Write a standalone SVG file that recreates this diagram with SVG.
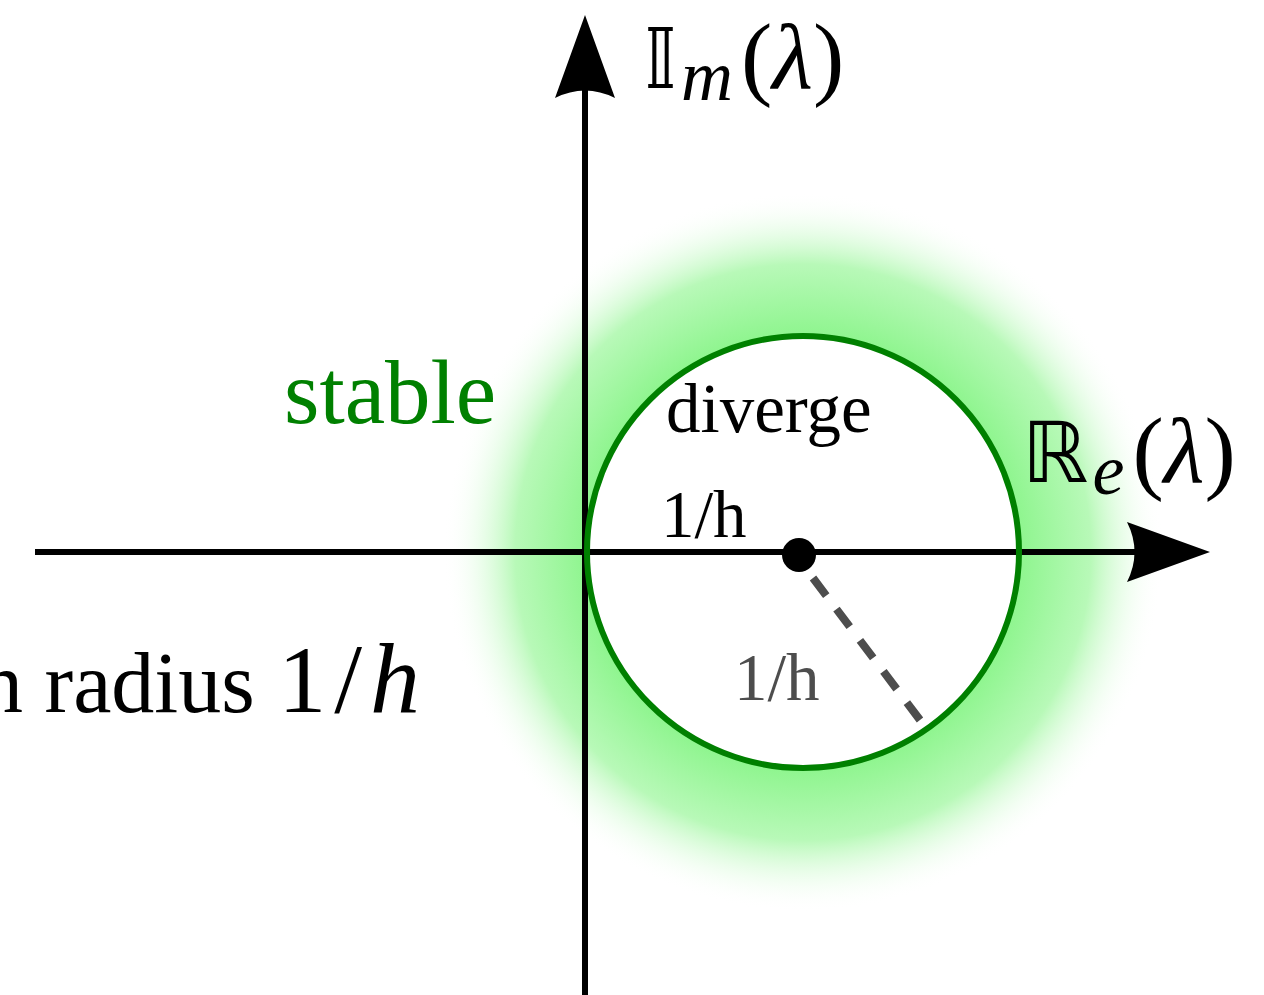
<svg xmlns="http://www.w3.org/2000/svg" width="1264" height="995" viewBox="0 0 1264 995">
<defs>
<radialGradient id="glow" cx="803" cy="552" r="360" gradientUnits="userSpaceOnUse">
<stop offset="0.6" stop-color="#8ef58e"/>
<stop offset="0.8" stop-color="#b8f9b8"/>
<stop offset="1" stop-color="#ffffff" stop-opacity="0"/>
</radialGradient>
<style>
.axis{stroke:#000;stroke-width:6;fill:none}
.lbl{font-family:"Liberation Serif","DejaVu Serif",serif}
.math{font-family:"DejaVu Sans","Noto Sans",sans-serif}
</style>
</defs>
<rect width="1264" height="995" fill="#fff"/>
<g id="region">
<circle cx="803" cy="552" r="360" fill="url(#glow)"/>
<circle cx="803" cy="552" r="216" fill="#fff"/>
</g>
<g id="connectors">
<line class="axis" x1="35" y1="552" x2="1140" y2="552"/>
<line class="axis" x1="585" y1="995" x2="585" y2="90"/>
<path d="M1210,552 L1127,522 Q1142,552 1127,582 Z" fill="#000"/>
<path d="M585,15 L555,98 Q585,83 615,98 Z" fill="#000"/>
<line x1="813" y1="578" x2="920" y2="720" stroke="#4d4d4d" stroke-width="8" stroke-dasharray="22,17"/>
</g>
<g id="circle">
<circle cx="803" cy="552" r="216" fill="none" stroke="#008000" stroke-width="6"/>
</g>
<g id="center">
<circle cx="799" cy="555" r="17" fill="#000"/>
</g>
<g id="labels">
<text class="lbl" x="284" y="423" font-size="91" fill="#008000">stable</text>
<text class="lbl" x="666" y="432" font-size="69" fill="#000">diverge</text>
<text class="lbl" x="661" y="537" font-size="67" fill="#000">1/h</text>
<text class="lbl" x="734" y="700" font-size="67" fill="#4d4d4d">1/h</text>
<text class="lbl" x="-20" y="712" font-size="86" fill="#000">n radius <tspan font-size="96" dx="2">1</tspan><tspan font-size="100" dx="8">/</tspan><tspan font-size="100" font-style="italic" dx="8">h</tspan></text>
<text x="644" y="88" font-size="84" fill="#000"><tspan class="math">𝕀</tspan><tspan class="lbl" font-style="italic" font-size="72" dy="12" dx="4">m</tspan><tspan class="lbl" dy="-12" font-size="94" dx="8">(<tspan font-style="italic">λ</tspan>)</tspan></text>
<text x="1022" y="482" font-size="84" fill="#000"><tspan class="math">ℝ</tspan><tspan class="lbl" font-style="italic" font-size="72" dy="12" dx="4">e</tspan><tspan class="lbl" dy="-12" font-size="94" dx="8">(<tspan font-style="italic">λ</tspan>)</tspan></text>
</g>
</svg>
